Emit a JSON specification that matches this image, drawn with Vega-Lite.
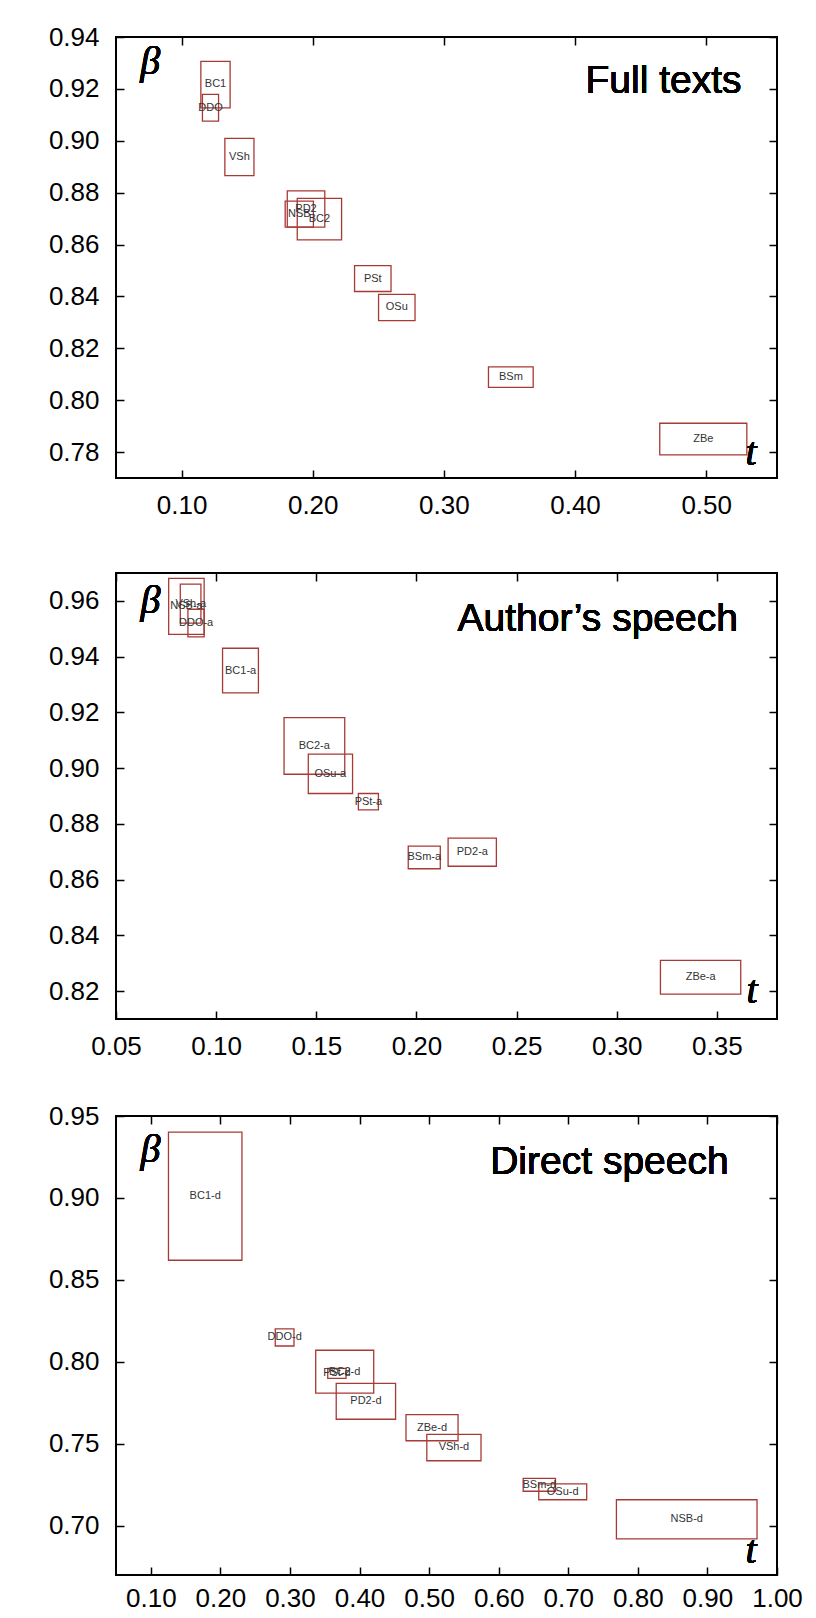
{
  "$schema": "https://vega.github.io/schema/vega-lite/v6.json",
  "padding": {"left": 47, "top": 23, "right": 5, "bottom": 5},
  "background": "white",
  "spacing": 42,
  "datasets": {
    "full": [
      {"name": "BC1", "t": 0.1259, "t_lo": 0.1147, "t_hi": 0.137, "beta": 0.9217, "b_lo": 0.9127, "b_hi": 0.9306},
      {"name": "DDO", "t": 0.1221, "t_lo": 0.1159, "t_hi": 0.1282, "beta": 0.9128, "b_lo": 0.9076, "b_hi": 0.9179},
      {"name": "VSh", "t": 0.1441, "t_lo": 0.133, "t_hi": 0.1552, "beta": 0.8938, "b_lo": 0.8866, "b_hi": 0.9009},
      {"name": "PD2", "t": 0.1949, "t_lo": 0.1806, "t_hi": 0.2092, "beta": 0.8737, "b_lo": 0.8667, "b_hi": 0.8807},
      {"name": "NSB", "t": 0.1898, "t_lo": 0.179, "t_hi": 0.2005, "beta": 0.8717, "b_lo": 0.8667, "b_hi": 0.8767},
      {"name": "BC2", "t": 0.2051, "t_lo": 0.1882, "t_hi": 0.222, "beta": 0.8698, "b_lo": 0.8618, "b_hi": 0.8778},
      {"name": "PSt", "t": 0.2458, "t_lo": 0.2319, "t_hi": 0.2597, "beta": 0.8469, "b_lo": 0.8419, "b_hi": 0.8519},
      {"name": "OSu", "t": 0.2641, "t_lo": 0.2502, "t_hi": 0.278, "beta": 0.8358, "b_lo": 0.8307, "b_hi": 0.8408},
      {"name": "BSm", "t": 0.3511, "t_lo": 0.334, "t_hi": 0.3681, "beta": 0.8089, "b_lo": 0.8049, "b_hi": 0.8128},
      {"name": "ZBe", "t": 0.4978, "t_lo": 0.4646, "t_hi": 0.531, "beta": 0.785, "b_lo": 0.7789, "b_hi": 0.7911}
    ],
    "author": [
      {"name": "NSB-a", "t": 0.0852, "t_lo": 0.0763, "t_hi": 0.094, "beta": 0.958, "b_lo": 0.948, "b_hi": 0.9681},
      {"name": "VSh-a", "t": 0.0873, "t_lo": 0.0821, "t_hi": 0.0924, "beta": 0.959, "b_lo": 0.952, "b_hi": 0.966},
      {"name": "DDO-a", "t": 0.09, "t_lo": 0.0859, "t_hi": 0.094, "beta": 0.952, "b_lo": 0.9471, "b_hi": 0.957},
      {"name": "BC1-a", "t": 0.1122, "t_lo": 0.1032, "t_hi": 0.1211, "beta": 0.935, "b_lo": 0.927, "b_hi": 0.943},
      {"name": "BC2-a", "t": 0.149, "t_lo": 0.1339, "t_hi": 0.1642, "beta": 0.908, "b_lo": 0.8978, "b_hi": 0.9181},
      {"name": "OSu-a", "t": 0.157, "t_lo": 0.146, "t_hi": 0.1681, "beta": 0.898, "b_lo": 0.8909, "b_hi": 0.905},
      {"name": "PSt-a", "t": 0.176, "t_lo": 0.171, "t_hi": 0.181, "beta": 0.888, "b_lo": 0.885, "b_hi": 0.8909},
      {"name": "BSm-a", "t": 0.2039, "t_lo": 0.1959, "t_hi": 0.2119, "beta": 0.868, "b_lo": 0.8639, "b_hi": 0.872},
      {"name": "PD2-a", "t": 0.2279, "t_lo": 0.2158, "t_hi": 0.2399, "beta": 0.87, "b_lo": 0.8648, "b_hi": 0.8749},
      {"name": "ZBe-a", "t": 0.3419, "t_lo": 0.3218, "t_hi": 0.3619, "beta": 0.825, "b_lo": 0.8189, "b_hi": 0.831}
    ],
    "direct": [
      {"name": "BC1-d", "t": 0.1782, "t_lo": 0.1254, "t_hi": 0.231, "beta": 0.9011, "b_lo": 0.862, "b_hi": 0.9402},
      {"name": "DDO-d", "t": 0.2924, "t_lo": 0.2789, "t_hi": 0.3058, "beta": 0.8149, "b_lo": 0.8097, "b_hi": 0.8201},
      {"name": "BC2-d", "t": 0.3787, "t_lo": 0.337, "t_hi": 0.4204, "beta": 0.794, "b_lo": 0.7809, "b_hi": 0.8071},
      {"name": "PSt-d", "t": 0.3675, "t_lo": 0.3543, "t_hi": 0.3806, "beta": 0.793, "b_lo": 0.79, "b_hi": 0.7961},
      {"name": "PD2-d", "t": 0.4092, "t_lo": 0.3665, "t_hi": 0.4518, "beta": 0.776, "b_lo": 0.765, "b_hi": 0.7869},
      {"name": "ZBe-d", "t": 0.5042, "t_lo": 0.4668, "t_hi": 0.5416, "beta": 0.7599, "b_lo": 0.7519, "b_hi": 0.7678},
      {"name": "VSh-d", "t": 0.5357, "t_lo": 0.4967, "t_hi": 0.5746, "beta": 0.7478, "b_lo": 0.7397, "b_hi": 0.7558},
      {"name": "BSm-d", "t": 0.6584, "t_lo": 0.6352, "t_hi": 0.6816, "beta": 0.725, "b_lo": 0.7211, "b_hi": 0.7289},
      {"name": "OSu-d", "t": 0.692, "t_lo": 0.6576, "t_hi": 0.7265, "beta": 0.7208, "b_lo": 0.7159, "b_hi": 0.7256},
      {"name": "NSB-d", "t": 0.8703, "t_lo": 0.7692, "t_hi": 0.9713, "beta": 0.704, "b_lo": 0.692, "b_hi": 0.7159}
    ]
  },
  "vconcat": [
    {
      "spacing": 52,
      "vconcat": [
        {
          "width": 661, "height": 441,
          "data": {"name": "full"},
          "resolve": {"axis": {"x": "independent", "y": "independent"}},
          "layer": [
            {
              "mark": {"type": "rect", "fillOpacity": 0, "stroke": "#a83a36", "strokeWidth": 1.3},
              "encoding": {
                "x": {"field": "t_lo", "type": "quantitative", "scale": {"domain": [0.05, 0.554], "nice": false, "zero": false}, "axis": {"orient": "bottom", "values": [0.1, 0.2, 0.3, 0.4, 0.5], "format": ".2f", "title": null}},
                "x2": {"field": "t_hi"},
                "y": {"field": "b_lo", "type": "quantitative", "scale": {"domain": [0.77, 0.94], "nice": false, "zero": false}, "axis": {"orient": "left", "values": [0.78, 0.80, 0.82, 0.84, 0.86, 0.88, 0.90, 0.92, 0.94], "format": ".2f", "title": null}},
                "y2": {"field": "b_hi"}
              }
            },
            {
              "mark": {"type": "text", "fontSize": 11, "font": "Liberation Sans", "color": "#333"},
              "encoding": {
                "x": {"field": "t", "type": "quantitative", "axis": {"orient": "top", "values": [0.1, 0.2, 0.3, 0.4, 0.5], "labels": false, "title": null}},
                "y": {"field": "beta", "type": "quantitative", "axis": {"orient": "right", "values": [0.78, 0.80, 0.82, 0.84, 0.86, 0.88, 0.90, 0.92, 0.94], "labels": false, "title": null}},
                "text": {"field": "name"}
              }
            },
            {
              "mark": {"type": "text", "text": "β", "font": "Liberation Serif", "fontStyle": "italic", "fontSize": 40, "baseline": "middle"},
              "encoding": {"x": {"datum": 0.076, "type": "quantitative", "axis": null}, "y": {"datum": 0.9302, "type": "quantitative", "axis": null}}
            },
            {
              "mark": {"type": "text", "text": "t", "font": "Liberation Serif", "fontStyle": "italic", "fontSize": 40, "baseline": "middle"},
              "encoding": {"x": {"datum": 0.5342, "type": "quantitative", "axis": null}, "y": {"datum": 0.7798, "type": "quantitative", "axis": null}}
            },
            {
              "mark": {"type": "text", "text": "Full texts", "font": "Liberation Sans", "fontSize": 39, "align": "right", "baseline": "alphabetic"},
              "encoding": {"x": {"datum": 0.527, "type": "quantitative", "axis": null}, "y": {"datum": 0.9184, "type": "quantitative", "axis": null}}
            }
          ]
        },
        {
          "width": 661, "height": 446,
          "data": {"name": "author"},
          "resolve": {"axis": {"x": "independent", "y": "independent"}},
          "layer": [
            {
              "mark": {"type": "rect", "fillOpacity": 0, "stroke": "#a83a36", "strokeWidth": 1.3},
              "encoding": {
                "x": {"field": "t_lo", "type": "quantitative", "scale": {"domain": [0.05, 0.38], "nice": false, "zero": false}, "axis": {"orient": "bottom", "values": [0.05, 0.1, 0.15, 0.2, 0.25, 0.3, 0.35], "format": ".2f", "title": null}},
                "x2": {"field": "t_hi"},
                "y": {"field": "b_lo", "type": "quantitative", "scale": {"domain": [0.81, 0.97], "nice": false, "zero": false}, "axis": {"orient": "left", "values": [0.82, 0.84, 0.86, 0.88, 0.90, 0.92, 0.94, 0.96], "format": ".2f", "title": null}},
                "y2": {"field": "b_hi"}
              }
            },
            {
              "mark": {"type": "text", "fontSize": 11, "font": "Liberation Sans", "color": "#333"},
              "encoding": {
                "x": {"field": "t", "type": "quantitative", "axis": {"orient": "top", "values": [0.05, 0.1, 0.15, 0.2, 0.25, 0.3, 0.35], "labels": false, "title": null}},
                "y": {"field": "beta", "type": "quantitative", "axis": {"orient": "right", "values": [0.82, 0.84, 0.86, 0.88, 0.90, 0.92, 0.94, 0.96], "labels": false, "title": null}},
                "text": {"field": "name"}
              }
            },
            {
              "mark": {"type": "text", "text": "β", "font": "Liberation Serif", "fontStyle": "italic", "fontSize": 40, "baseline": "middle"},
              "encoding": {"x": {"datum": 0.0672, "type": "quantitative", "axis": null}, "y": {"datum": 0.96, "type": "quantitative", "axis": null}}
            },
            {
              "mark": {"type": "text", "text": "t", "font": "Liberation Serif", "fontStyle": "italic", "fontSize": 40, "baseline": "middle"},
              "encoding": {"x": {"datum": 0.3675, "type": "quantitative", "axis": null}, "y": {"datum": 0.82, "type": "quantitative", "axis": null}}
            },
            {
              "mark": {"type": "text", "text": "Author’s speech", "font": "Liberation Sans", "fontSize": 39, "align": "right", "baseline": "alphabetic"},
              "encoding": {"x": {"datum": 0.3605, "type": "quantitative", "axis": null}, "y": {"datum": 0.9493, "type": "quantitative", "axis": null}}
            }
          ]
        }
      ]
    },
    {
      "width": 661, "height": 459,
      "data": {"name": "direct"},
      "resolve": {"axis": {"x": "independent", "y": "independent"}},
      "layer": [
        {
          "mark": {"type": "rect", "fillOpacity": 0, "stroke": "#a83a36", "strokeWidth": 1.3},
          "encoding": {
            "x": {"field": "t_lo", "type": "quantitative", "scale": {"domain": [0.05, 1.0], "nice": false, "zero": false}, "axis": {"orient": "bottom", "values": [0.1, 0.2, 0.3, 0.4, 0.5, 0.6, 0.7, 0.8, 0.9, 1.0], "format": ".2f", "title": null, "labelPadding": 18}},
            "x2": {"field": "t_hi"},
            "y": {"field": "b_lo", "type": "quantitative", "scale": {"domain": [0.67, 0.95], "nice": false, "zero": false}, "axis": {"orient": "left", "values": [0.70, 0.75, 0.80, 0.85, 0.90, 0.95], "format": ".2f", "title": null}},
            "y2": {"field": "b_hi"}
          }
        },
        {
          "mark": {"type": "text", "fontSize": 11, "font": "Liberation Sans", "color": "#333"},
          "encoding": {
            "x": {"field": "t", "type": "quantitative", "axis": {"orient": "top", "values": [0.1, 0.2, 0.3, 0.4, 0.5, 0.6, 0.7, 0.8, 0.9, 1.0], "labels": false, "title": null}},
            "y": {"field": "beta", "type": "quantitative", "axis": {"orient": "right", "values": [0.70, 0.75, 0.80, 0.85, 0.90, 0.95], "labels": false, "title": null}},
            "text": {"field": "name"}
          }
        },
        {
          "mark": {"type": "text", "text": "β", "font": "Liberation Serif", "fontStyle": "italic", "fontSize": 40, "baseline": "middle"},
          "encoding": {"x": {"datum": 0.0995, "type": "quantitative", "axis": null}, "y": {"datum": 0.929, "type": "quantitative", "axis": null}}
        },
        {
          "mark": {"type": "text", "text": "t", "font": "Liberation Serif", "fontStyle": "italic", "fontSize": 40, "baseline": "middle"},
          "encoding": {"x": {"datum": 0.9627, "type": "quantitative", "axis": null}, "y": {"datum": 0.6846, "type": "quantitative", "axis": null}}
        },
        {
          "mark": {"type": "text", "text": "Direct speech", "font": "Liberation Sans", "fontSize": 39, "align": "right", "baseline": "alphabetic"},
          "encoding": {"x": {"datum": 0.9305, "type": "quantitative", "axis": null}, "y": {"datum": 0.9147, "type": "quantitative", "axis": null}}
        }
      ]
    }
  ],
  "config": {
    "view": {"stroke": "#000", "strokeWidth": 2},
    "axis": {
      "domain": false, "grid": false, "ticks": true, "tickSize": -8, "tickColor": "#000", "tickWidth": 1.5,
      "labelFont": "Liberation Sans", "labelFontSize": 26, "labelColor": "#000",
      "labelPadding": 22, "labelFlush": false, "labelOverlap": false, "labelBound": false
    },
    "axisLeft": {"labelPadding": 25},
    "text": {"color": "#000"}
  }
}
